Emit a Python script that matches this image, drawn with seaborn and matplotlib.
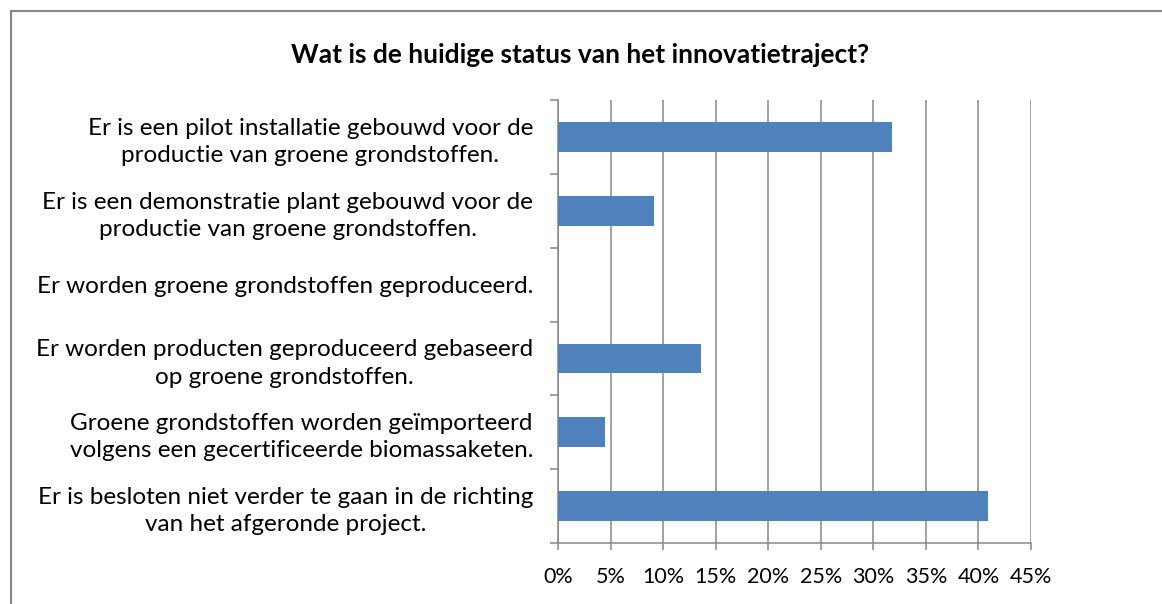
import matplotlib
matplotlib.use("Agg")
import matplotlib.pyplot as plt
import matplotlib.patches as mpatches
from matplotlib.ticker import FuncFormatter
import seaborn as sns
import pandas as pd

categories = [
    "Er is een pilot installatie gebouwd voor de\nproductie van groene grondstoffen.",
    "Er is een demonstratie plant gebouwd voor de\nproductie van groene grondstoffen.",
    "Er worden groene grondstoffen geproduceerd.",
    "Er worden producten geproduceerd gebaseerd\nop groene grondstoffen.",
    "Groene grondstoffen worden geïmporteerd\nvolgens een gecertificeerde biomassaketen.",
    "Er is besloten niet verder te gaan in de richting\nvan het afgeronde project.",
]
values = [31.8, 9.1, 0.0, 13.6, 4.5, 40.9]
x_ticks = [0, 5, 10, 15, 20, 25, 30, 35, 40, 45]
title = "Wat is de huidige status van het innovatietraject?"

sns.set_theme(style="white")
plt.rcParams["font.family"] = ["Lato", "DejaVu Sans"]

W, H = 1162, 604
fig = plt.figure(figsize=(W / 100, H / 100), dpi=100)
ax = fig.add_axes([558 / W, 1 - 543 / H, (1031 - 558) / W, (543 - 100) / H])

df = pd.DataFrame({"cat": categories, "val": values})
sns.barplot(data=df, x="val", y="cat", orient="h", color="#4F81BD",
            width=0.4, linewidth=0, ax=ax, zorder=3, saturation=1)

ax.set_xlim(0, 45)
ax.set_ylim(len(categories) - 0.5, -0.5)
ax.set_xticks(x_ticks)
ax.xaxis.set_major_formatter(FuncFormatter(lambda v, p: f"{int(v)}%"))
ax.grid(axis="x", color="#878787", linewidth=1.1, zorder=0)
ax.grid(axis="y", visible=False)

for s in ["top", "right"]:
    ax.spines[s].set_visible(False)
for s in ["left", "bottom"]:
    ax.spines[s].set_visible(True)
    ax.spines[s].set_color("#878787")
    ax.spines[s].set_linewidth(1.1)

ax.set_xlabel("")
ax.set_ylabel("")
ax.tick_params(axis="x", which="major", direction="out", length=5, width=1.1,
               color="#878787", labelsize=15.5, pad=12, bottom=True)
ax.tick_params(axis="y", which="major", length=0, labelsize=17.5, pad=18)
ax.set_yticks([i - 0.5 for i in range(len(categories) + 1)], minor=True)
ax.tick_params(axis="y", which="minor", direction="out", length=6, width=1.1,
               color="#878787", left=True)
for lab in ax.get_yticklabels():
    lab.set_multialignment("center")
    lab.set_linespacing(1.36)
for lab in ax.get_xticklabels() + ax.get_yticklabels():
    lab.set_color("#000000")

fig.text(580 / W, 1 - 55 / H, title, ha="center", va="center",
         fontsize=19, fontweight="bold", color="#000000")

fig.add_artist(mpatches.Rectangle((11 / W, -0.05), 1.2, 1 - 11 / H + 0.05,
                                  transform=fig.transFigure, fill=False,
                                  edgecolor="#878787", linewidth=1.5))

fig.savefig("out.png", dpi=100, facecolor="white")
